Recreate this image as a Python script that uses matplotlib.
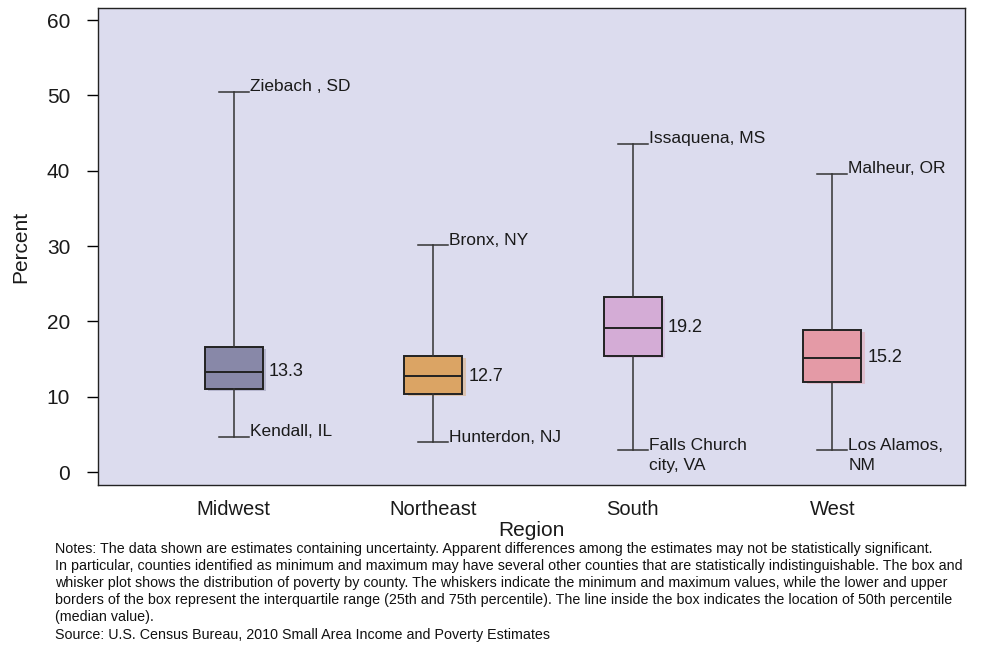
import matplotlib
matplotlib.use("Agg")
import matplotlib.pyplot as plt
from matplotlib import font_manager
import matplotlib.patheffects as pe

regions = ["Midwest", "Northeast", "South", "West"]
mins = [4.7, 4.0, 2.9, 2.9]
q1 = [11.0, 10.4, 15.4, 12.0]
medians = [13.3, 12.7, 19.2, 15.2]
q3 = [16.6, 15.4, 23.2, 18.9]
maxs = [50.5, 30.1, 43.6, 39.6]
max_labels = ["Ziebach , SD", "Bronx, NY", "Issaquena, MS", "Malheur, OR"]
min_labels = ["Kendall, IL", "Hunterdon, NJ", "Falls Church\ncity, VA", "Los Alamos,\nNM"]
colors = ["#8888a8", "#dba464", "#d4acd6", "#e49aa6"]
yticks = [0, 10, 20, 30, 40, 50, 60]

names = {f.name for f in font_manager.fontManager.ttflist}
main_font = "Liberation Sans" if "Liberation Sans" in names else "DejaVu Sans"
plt.rcParams["font.family"] = [main_font, "DejaVu Sans"]

fig = plt.figure(figsize=(9.89, 6.46), dpi=100)
fig.patch.set_facecolor("white")
ax = fig.add_axes([98/989, 1-485/646, (965-98)/989, (485-8)/646])
ax.set_facecolor("#dcdcee")

positions = [1, 2, 3, 4]
stats = []
for i, r in enumerate(regions):
    stats.append(dict(label=r, whislo=mins[i], q1=q1[i], med=medians[i],
                      q3=q3[i], whishi=maxs[i], fliers=[]))

bp = ax.bxp(stats, positions=positions, widths=0.29, patch_artist=True,
            showfliers=False,
            boxprops=dict(edgecolor="#222222", linewidth=1.4),
            medianprops=dict(color="#222222", linewidth=1.4),
            whiskerprops=dict(color="#333333", linewidth=1.1),
            capprops=dict(color="#333333", linewidth=1.1),
            capwidths=0.15)
for patch, c in zip(bp["boxes"], colors):
    patch.set_facecolor(c)
    patch.set_path_effects([pe.SimplePatchShadow(offset=(2.5, -1.5), shadow_rgbFace=c, alpha=0.45),
                            pe.Normal()])

txt_color = "#1a1a1a"
for i, p in enumerate(positions):
    ax.annotate(max_labels[i], xy=(p + 0.08, maxs[i]), xytext=(0, 9),
                textcoords="offset points", ha="left", va="top",
                fontsize=12.5, color=txt_color)
    ax.annotate(min_labels[i], xy=(p + 0.08, mins[i]), xytext=(0, 9),
                textcoords="offset points", ha="left", va="top",
                fontsize=12.5, color=txt_color, linespacing=1.45)
    ax.text(p + 0.175, medians[i], f"{medians[i]:.1f}", ha="left", va="center",
            fontsize=13, color=txt_color)

ax.set_xlim(0.32, 4.665)
ax.set_ylim(-1.7, 61.6)
ax.set_yticks(yticks)
ax.set_yticklabels([str(t) for t in yticks], fontsize=15, color=txt_color)
ax.set_xticks(positions)
ax.set_xticklabels(regions, fontsize=14.5, color=txt_color)
ax.tick_params(axis="y", direction="out", length=8, width=1, pad=12)
ax.tick_params(axis="x", length=0, pad=11)
for s in ax.spines.values():
    s.set_color("#222222")
    s.set_linewidth(1.0)

ax.set_ylabel("Percent", fontsize=15, color=txt_color, labelpad=12)
ax.set_xlabel("Region", fontsize=15, color=txt_color, labelpad=1)

notes = [
    "Notes: The data shown are estimates containing uncertainty. Apparent differences among the estimates may not be statistically significant.",
    "In particular, counties identified as minimum and maximum may have several other counties that are statistically indistinguishable. The box and",
    "whisker plot shows the distribution of poverty by county. The whiskers indicate the minimum and maximum values, while the lower and upper",
    "borders of the box represent the interquartile range (25th and 75th percentile). The line inside the box indicates the location of 50th percentile",
    "(median value).",
    "Source: U.S. Census Bureau, 2010 Small Area Income and Poverty Estimates",
]
for k, line in enumerate(notes):
    fig.text(55/989, 1 - (549 + k*17.1)/646, line, ha="left", va="center",
             fontsize=10.3, color="#111111")

fig.savefig("out.png", dpi=100, facecolor="white")
